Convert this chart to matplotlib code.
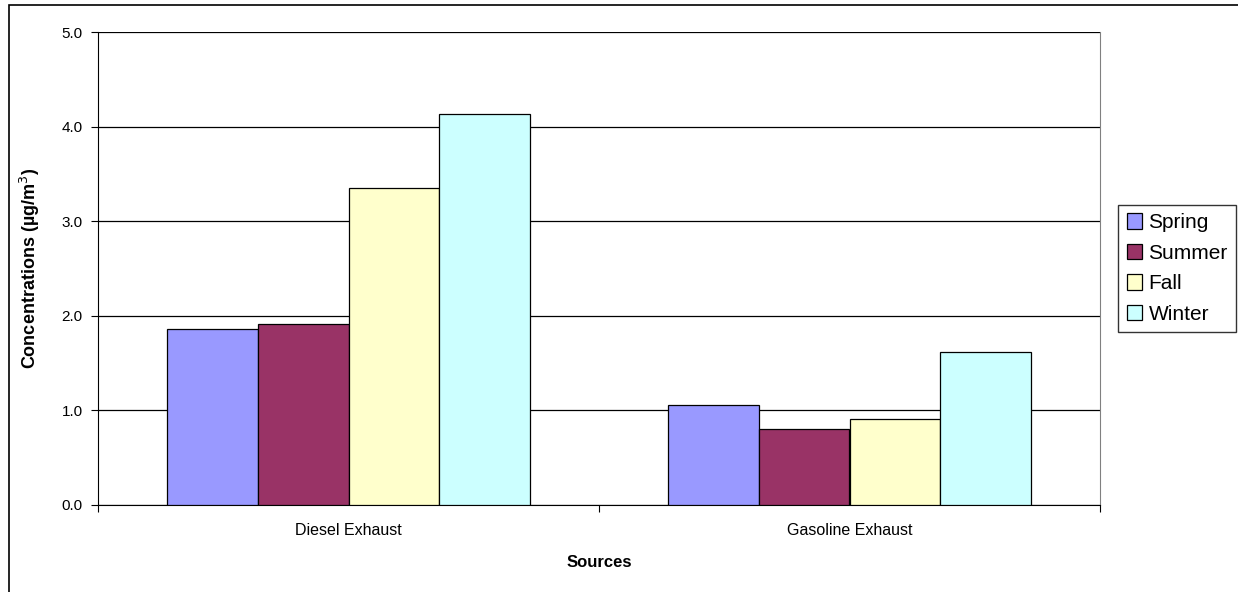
import numpy as np
import matplotlib.pyplot as plt
from matplotlib.patches import Rectangle

plt.rcParams['font.family'] = ['Liberation Sans', 'DejaVu Sans']

sources = ["Diesel Exhaust", "Gasoline Exhaust"]
seasons = ["Spring", "Summer", "Fall", "Winter"]
spring = [1.86, 1.06]
summer = [1.91, 0.80]
fall = [3.35, 0.91]
winter = [4.13, 1.62]
colors = ["#9999FF", "#993366", "#FFFFCC", "#CCFFFF"]

fig = plt.figure(figsize=(12.38, 5.92), dpi=100)
ax = fig.add_axes([98/1238, 1-505/592, (1100-98)/1238, (505-32)/592])

# outer chart frame
fig.patches.append(Rectangle((9/1238, -0.1), 1.2, 1-5/592+0.1, transform=fig.transFigure,
                             fill=False, edgecolor="black", linewidth=1.2))

x = np.arange(len(sources))
w = 0.1816
for i, (vals, c, lab) in enumerate(zip([spring, summer, fall, winter], colors, seasons)):
    ax.bar(x + (i - 1.5) * w, vals, w, color=c, edgecolor="black", linewidth=0.9,
           label=lab, zorder=3)

ax.set_xlim(-0.5, 1.5)
ax.set_ylim(0, 5)
ax.set_yticks(np.arange(0, 5.01, 1.0))
ax.set_yticklabels([f"{v:.1f}" for v in np.arange(0, 5.01, 1.0)], fontsize=11)
ax.yaxis.grid(True, color="black", linewidth=0.9, zorder=0)
ax.set_axisbelow(True)

ax.set_xticks([-0.5, 0.5, 1.5])
ax.set_xticklabels([])
ax.set_xticks(x, minor=True)
ax.set_xticklabels(sources, minor=True, fontsize=11.5)
ax.tick_params(axis="x", which="minor", length=0, pad=13)
ax.tick_params(axis="x", which="major", length=5, direction="out")
ax.tick_params(axis="y", length=5, direction="out", pad=6)

for s in ["left", "bottom"]:
    ax.spines[s].set_color("black")
ax.spines["top"].set_visible(False)
ax.spines["right"].set_color("gray")

ax.set_xlabel("Sources", fontsize=12, fontweight="bold", labelpad=12)
ax.set_ylabel("Concentrations (µg/m$^3$)", fontsize=13, fontweight="bold", labelpad=14)

leg = ax.legend(loc="center left", bbox_to_anchor=(1.012, 0.5), fontsize=15,
                frameon=True, fancybox=False, edgecolor="black", handlelength=0.75,
                handleheight=0.75, handletextpad=0.3, borderpad=0.4, labelspacing=0.55,
                borderaxespad=0.3)
leg.get_frame().set_linewidth(1.0)

fig.savefig("out.png", dpi=100)
